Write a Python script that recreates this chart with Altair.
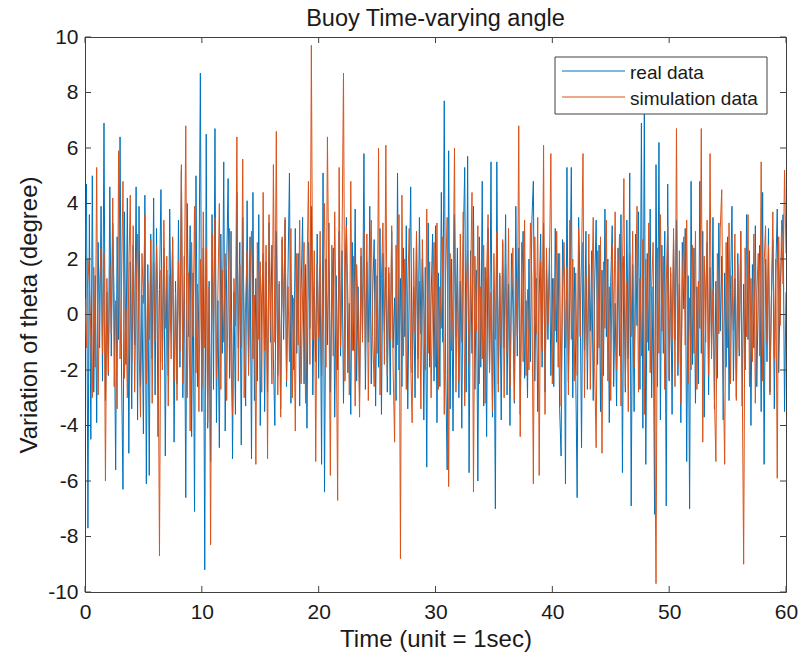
import altair as alt
import pandas as pd

STEP = 0.125
real_data = [
    2.1, 4.7, -7.7, 3.6, -4.5, 5.0, -2.8, 1.4, -3.9, 2.6, -1.2, 3.9, -2.4, 6.9, -3.1, 0.8,
    -2.2, 4.6, -1.5, 3.3, 0.4, -5.6, 2.8, -0.9, 6.4, -2.0, -6.3, 3.7, -1.8, 4.2, -5.0, 1.9,
    -3.4, 2.5, -1.1, 4.6, -3.8, 3.9, -2.6, 0.7, -4.3, 4.3, -6.1, 1.8, -5.8, 2.9, -1.6, 4.2,
    -2.9, 3.1, -4.4, 0.9, 4.5, -1.7, 2.4, -5.1, 1.6, -2.2, 3.8, -0.6, 2.7, -4.6, 1.2, -2.5,
    3.4, -1.9, 5.2, -3.0, 2.1, -6.6, 4.0, -0.8, 3.2, -4.4, 1.5, -7.1, 5.0, -2.6, 0.9, 8.7,
    -3.5, 2.4, -9.2, 6.5, -4.1, 1.2, -5.3, 3.6, -2.7, 6.7, -3.9, 0.5, -4.8, 2.9, -1.4, 5.5,
    -4.2, 1.7, 4.9, -2.3, 3.0, -5.2, 0.8, -3.6, 4.4, -1.2, 2.6, -4.7, 3.5, -0.4, -3.3, 4.1,
    -1.8, 2.8, -5.2, 4.4, -3.1, 1.3, -2.4, 3.6, -4.0, 0.6, 2.2, -3.5, 1.9, -2.8, 3.3, -1.0,
    2.5, -1.6, -4.0, 3.0, -2.2, 1.1, -3.4, 2.7, -0.9, 3.4, -2.6, 1.5, 5.1, -3.2, 0.7, -2.0,
    3.1, -1.4, 2.2, -3.3, 0.9, 3.5, -2.5, 1.8, -4.1, 2.6, -0.5, 3.9, -2.9, 1.0, -1.7, 2.9,
    -2.3, 1.6, -5.4, 5.1, -6.4, 2.0, -1.1, 3.3, -2.8, 0.9, 2.4, -3.7, 1.4, -2.0, 3.0, -1.5,
    2.3, -3.2, 1.2, 3.5, -2.1, 0.4, -3.6, 2.6, -1.3, 3.8, -2.4, 1.0, -3.0, 2.1, -0.7, 5.8,
    -2.7, 1.9, -1.0, 3.9, -2.5, 0.8, 2.7, -3.3, 1.4, -1.9, 3.1, -3.6, 2.2, -0.6, 1.7, -2.8,
    1.5, -2.9, 3.0, -1.2, 0.6, -3.1, 5.1, -2.0, 1.3, -2.6, 2.4, -0.8, 3.2, -3.4, 0.9, 4.6,
    -2.1, 1.0, -3.0, 2.8, -1.6, 3.5, -0.7, 2.0, -3.8, 1.7, -5.5, 3.3, -1.9, 0.6, 2.9, -2.4,
    3.2, -3.9, 1.5, -2.6, 4.4, -1.0, 7.7, -2.2, -5.6, 5.9, -3.4, 2.0, -4.2, 3.6, -0.8, 2.4,
    -3.0, 1.2, -4.1, 2.5, 5.3, -2.8, 5.7, -5.7, 2.3, -1.4, 3.9, -2.7, 1.6, -6.0, 2.8, -1.9,
    4.8, -3.3, 1.7, -4.4, 3.1, -2.0, 5.5, -3.7, 0.9, -7.0, 5.5, -2.5, 1.4, -3.8, 2.6, -1.2,
    3.6, -2.9, 1.1, -4.0, 2.2, 0.3, -3.2, 3.9, -1.5, 2.4, -3.6, 1.0, 3.0, -2.3, 0.5, -3.0,
    2.0, -1.7, 3.4, 4.8, -2.4, 1.3, -3.5, 0.7, 2.9, -1.9, 3.3, -2.8, 1.6, -0.9, 2.4, -2.2,
    1.3, -2.6, 3.1, -1.0, 2.2, -3.4, -5.1, 2.7, 1.4, -6.1, 5.3, -2.4, 0.8, 5.3, -3.0, 1.7,
    -2.0, -6.6, 3.5, 0.9, -4.8, 2.6, -1.3, 3.0, -2.7, 1.8, -0.6, 2.3, -3.1, 1.1, 3.4, -1.8,
    2.5, -3.5, 1.6, -2.2, 3.8, -0.8, 2.0, -3.9, 1.2, 3.2, -2.6, 0.4, -3.3, 2.4, -1.5, 3.6,
    -5.7, 2.1, -2.8, 3.4, -1.6, 5.1, -6.9, 1.8, -3.5, 2.9, -0.4, 3.7, -2.7, 6.9, -4.1, 7.6,
    -5.4, 2.2, -1.3, 3.8, -3.0, 1.0, -7.2, 5.4, -2.6, 6.2, -3.8, 2.5, -1.4, 3.0, -6.9, 4.7,
    -2.4, 1.5, -3.6, 2.7, -0.9, 3.4, -2.2, 1.1, -3.9, 2.6, 0.2, 3.1, -5.3, 1.4, -7.0, 4.8,
    -1.8, 2.4, -3.2, 1.0, -2.5, 4.8, -1.4, 3.0, -3.7, 0.8, 2.6, -2.9, 1.7, -1.1, 3.5, -3.4,
    1.2, -2.3, 3.3, -0.6, 2.1, -3.8, 1.5, -1.9, 2.8, -3.1, 0.9, 3.9, -2.4, 1.3, -3.0, 2.2,
    -1.5, 3.0, -3.3, 1.1, -2.0, 3.6, -0.9, 2.3, -4.0, 1.8, -1.2, 3.2, -2.6, 0.7, 2.5, -3.5,
    4.4, -5.4, 2.0, -1.7, 3.1, -2.8, 0.6, 2.7, -3.4, 1.5, 3.8, -2.1, 0.9, 2.4, 3.6, -3.5,
    0.8,
]
simulation_data = [
    0.6, -1.2, 2.0, 1.1, -0.8, -3.0, 1.7, -1.9, 5.3, -2.9, 0.9, 2.4, -1.4, 2.2, -6.0, 1.3,
    -2.1, 1.8, -0.7, 4.2, -2.6, 0.5, -3.4, 5.9, -1.6, 1.0, 4.8, -2.3, 0.2, -3.0, 1.5, 4.3,
    -1.7, 3.2, -2.8, 0.6, 2.9, -1.1, -3.7, 2.2, 0.4, 3.6, -2.5, 1.2, -0.9, 2.7, -3.2, 1.9,
    -1.0, 2.5, 0.3, -8.7, 1.6, -2.0, 3.4, -0.5, 2.1, -3.3, 1.4, -1.6, 2.8, -2.4, 0.8, -3.1,
    1.9, -1.3, 5.4, -2.5, 0.7, 6.8, -3.0, 1.5, -4.2, 2.6, -0.8, 3.9, -2.1, 1.1, -3.5, 2.0,
    -2.6, 3.7, -1.2, 2.4, -3.9, 1.0, -8.3, 2.9, -0.6, 3.5, -2.3, 0.8, 4.0, -2.7, 1.6, -1.0,
    2.2, -3.1, 0.9, 3.1, -1.8, -3.6, 1.3, -0.4, 6.4, -2.4, 1.8, -1.2, 5.6, -3.0, 0.5, 2.3,
    -2.2, 1.4, 3.0, -1.6, 0.7, -5.4, 2.6, -0.9, 1.9, -2.8, 4.4, -1.3, 2.5, -5.2, 3.6, 0.4,
    -2.5, 5.4, -1.0, 6.6, -2.9, 1.2, -3.7, 2.8, -0.3, 3.5, -2.4, 1.0, -1.7, 3.1, -3.0, 0.6,
    -4.2, 2.2, -1.1, 3.4, -2.5, 0.7, 2.6, -3.2, 1.5, 4.8, -1.8, 9.7, -0.9, 2.3, -5.3, 1.8,
    -0.8, 3.0, -2.2, 1.4, 4.0, -1.9, 6.4, 0.8, -5.8, 2.5, -1.5, 3.7, -0.4, -6.7, 5.3, -1.2,
    2.6, 8.7, -2.4, 3.2, 0.6, -2.9, 4.8, -1.3, 2.1, -3.3, 1.8, 0.3, -3.7, 2.4, -1.0, 3.0,
    -1.6, 2.9, -3.1, 1.1, 3.4, -0.8, -2.6, 2.0, -1.4, 6.0, -2.9, 1.3, 3.3, -1.8, 6.1, -2.2,
    1.7, -0.9, 3.2, -2.0, -4.6, 2.5, -1.1, 3.6, -8.8, 4.3, -1.5, 2.0, -2.7, 0.9, 3.1, -1.7,
    -3.9, 2.4, -0.7, 3.0, -2.3, 1.2, -3.4, 2.7, 0.1, -2.0, 3.8, -1.4, 1.9, -3.0, 0.8, 2.6,
    -1.9, 3.3, -2.7, 1.0, -0.5, 2.8, -3.6, 1.6, 3.5, -6.2, 2.2, -1.3, 0.7, 6.0, -2.8, 1.4,
    -2.4, 2.9, -1.0, 3.7, -3.3, 0.6, 2.3, -1.8, 1.2, 4.4, -6.4, 2.1, -0.6, 3.2, -2.5, 1.0,
    -1.6, 2.5, -3.2, 1.4, 3.6, -2.1, 0.8, -3.5, 2.2, -0.9, 3.0, -2.8, 1.5, -1.2, 2.7, -3.0,
    1.8, -1.4, 3.1, -2.6, 0.5, 2.4, -3.1, 1.3, -0.8, 6.8, -4.4, 2.6, -1.7, 3.4, -2.2, 0.9,
    -2.0, 3.3, 1.2, -6.1, 2.8, -0.7, 3.5, -5.8, 1.9, -1.3, 6.1, -3.6, 2.4, -0.4, 1.6, 5.8,
    -2.5, 1.3, -0.6, 3.0, -1.9, 2.2, -3.3, 0.8, 2.6, -1.2, 1.7, -2.9, 3.4, -0.9, 2.0, -2.4,
    1.5, -2.2, 3.1, -0.8, 2.0, 5.8, -3.0, 1.4, -1.6, 2.9, -2.7, 0.6, 3.5, -1.9, -4.8, 2.3,
    -1.2, 2.8, -5.0, 1.9, -0.5, 3.4, -2.4, 1.0, -3.1, 2.5, -1.0, 3.7, -2.0, 0.7, 2.9, -3.3,
    1.6, 4.9, -2.6, 1.2, -3.5, 2.2, -0.8, 3.0, -1.9, 0.5, 3.9, -2.8, 1.3, -1.5, 2.7, -3.6,
    2.0, -1.0, 3.3, -2.1, 0.9, 2.6, -3.0, -9.7, 2.4, -1.4, 3.6, -0.6, 2.1, -2.7, 1.1, 3.2,
    -2.3, 1.7, -0.9, 3.1, -2.6, 6.7, -1.8, 2.3, -3.2, 1.0, 2.8, -1.1, 3.4, -2.5, 0.6, -2.0,
    2.5, -1.4, 3.0, -2.7, 1.2, -0.5, 6.7, -4.6, 2.1, -1.0, 3.4, -2.2, 5.8, -1.6, 0.9, -3.0,
    -5.3, 2.2, -0.7, 3.1, 4.5, -1.9, -5.4, 2.6, -1.2, 3.3, -2.5, 1.4, -0.6, 2.9, -3.1, 1.8,
    -1.3, 3.0, -2.1, -9.0, 2.4, -0.8, 3.6, -2.6, 1.3, -1.7, 2.9, -3.2, 0.7, 2.2, -1.5, 5.5,
    -2.4, 1.8, 3.2, -1.0, 2.5, -2.9, 0.6, 3.7, -1.6, 2.0, -5.9, 2.8, -0.4, 3.4, 1.1, 5.2,
    2.2,
]
series_names = ["real data", "simulation data"]
series_colors = ["#0072BD", "#D95319"]
x_ticks = [0, 10, 20, 30, 40, 50, 60]
y_ticks = [-10, -8, -6, -4, -2, 0, 2, 4, 6, 8, 10]

# ---- layout / style ----
PW, PH = 701, 555
AX = "#404040"
TXT = "#1a1a1a"
FONT = "Liberation Sans"

rows = []
for name, vals in zip(series_names, [real_data, simulation_data]):
    for i, v in enumerate(vals):
        rows.append({"t": i * STEP, "v": v, "s": name})
df = pd.DataFrame(rows)

xscale = alt.Scale(domain=[0, 60], nice=False, zero=False)
yscale = alt.Scale(domain=[-10, 10], nice=False, zero=False)
x_enc = alt.X("t:Q", scale=xscale, title="Time (unit = 1sec)",
              axis=alt.Axis(values=x_ticks, labelExpr="datum.value + ''", labelFlush=False,
                            labelPadding=9, titlePadding=5))
y_enc = alt.Y("v:Q", scale=yscale, title="Variation of theta (degree)",
              axis=alt.Axis(values=y_ticks, labelExpr="datum.value + ''", labelFlush=False,
                            labelPadding=7, titlePadding=6))

lines = alt.Chart(df).mark_line(strokeWidth=1, clip=True).encode(
    x=x_enc, y=y_enc,
    color=alt.Color("s:N", scale=alt.Scale(domain=series_names, range=series_colors), legend=None),
)

xt = alt.Chart(pd.DataFrame({"t": x_ticks}))
yt = alt.Chart(pd.DataFrame({"v": y_ticks}))
tick_style = dict(color=AX, strokeWidth=1)
bottom_ticks = xt.mark_rule(**tick_style).encode(x=x_enc, y=alt.value(PH), y2=alt.value(PH - 6))
top_ticks = xt.mark_rule(**tick_style).encode(x=x_enc, y=alt.value(0), y2=alt.value(6))
left_ticks = yt.mark_rule(**tick_style).encode(y=y_enc, x=alt.value(0), x2=alt.value(6))
right_ticks = yt.mark_rule(**tick_style).encode(y=y_enc, x=alt.value(PW), x2=alt.value(PW - 6))

# ---- legend box (MATLAB style, inside the top-right corner) ----
one = alt.Chart(pd.DataFrame({"k": [0]}))
LX0, LX1, LY0, LY1 = 470, 682, 20, 77
leg_box = one.mark_rect(fill="white", stroke=AX, strokeWidth=1).encode(
    x=alt.value(LX0), x2=alt.value(LX1), y=alt.value(LY0), y2=alt.value(LY1))
leg_layers = [leg_box]
for k, (name, col) in enumerate(zip(series_names, series_colors)):
    yy = 34 + k * 26
    leg_layers.append(one.mark_rule(color=col, strokeWidth=1).encode(
        x=alt.value(477), x2=alt.value(540), y=alt.value(yy)))
    leg_layers.append(one.mark_text(align="left", baseline="middle", font=FONT,
                                    fontSize=19, color=TXT).encode(
        x=alt.value(545), y=alt.value(yy + 2), text=alt.value(name)))

chart = alt.layer(lines, bottom_ticks, top_ticks, left_ticks, right_ticks, *leg_layers).properties(
    width=PW, height=PH,
    title=alt.TitleParams("Buoy Time-varying angle", fontSize=23.5, font=FONT,
                          fontWeight="normal", color=TXT, anchor="middle", offset=8, dy=12),
    padding={"left": 85, "top": 37, "right": 12, "bottom": 70},
    autosize=alt.AutoSizeParams(type="none"),
    background="white",
).configure_view(
    stroke=AX, strokeWidth=1
).configure_axis(
    domain=False, ticks=False, grid=False,
    labelFont=FONT, labelFontSize=21, labelColor=TXT,
    titleFont=FONT, titleFontSize=24, titleFontWeight="normal", titleColor=TXT,
)

chart.save("out.html", embed_options={"renderer": "svg", "actions": False})
